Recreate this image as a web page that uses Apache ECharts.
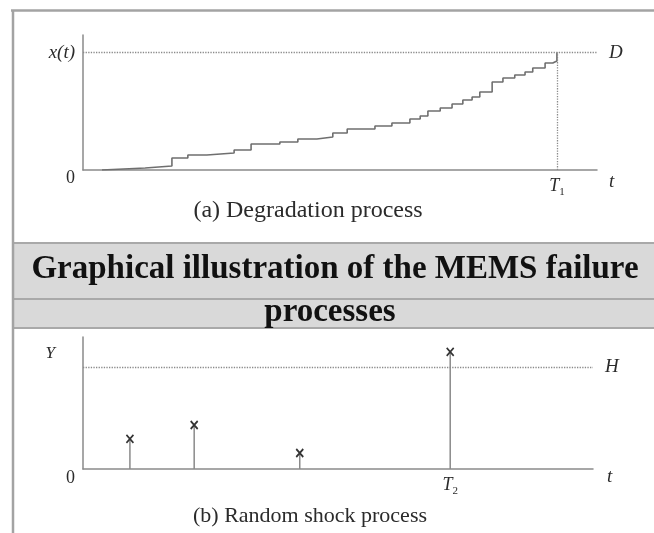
<!DOCTYPE html>
<html>
<head>
<meta charset="utf-8">
<script src="https://cdn.jsdelivr.net/npm/echarts@6/dist/echarts.min.js"></script>
<style>
html,body{margin:0;padding:0;background:#fff;}
#main{width:654px;height:533px;}
</style>
</head>
<body>
<div id="main"></div>
<script>
// (a) degradation path: [t, x(t)] at each jump
var degradeSteps = [[3.7,0],[3.7,1.7],[12.1,3.4],[17.3,10.2],[20.4,12.8],[24.1,14.5],[29.4,17.0],
	[32.7,22.1],[38.3,23.9],[41.8,26.4],[45.5,28.1],[48.6,31.5],[51.4,34.9],[56.8,37.5],
	[60.1,40.0],[63.6,43.4],[65.6,46.0],[67.1,50.3],[69.5,52.8],[71.8,56.2],[73.9,59.6],
	[75.7,62.2],[77.2,66.4],[79.6,75.0],[81.7,78.4],[84.0,80.9],[86.0,83.5],[87.5,86.9],
	[89.9,91.1],[91.4,92.8],[92.2,100]];
var T1 = 92.2, D = 100;
// (b) random shocks
var shockTimes = [9.2, 21.8, 42.5, 72.0];
var shockSizes = [29.6, 43.3, 15.8, 115.3];
var T2 = 72.0, H = 100;

var serif = "'Liberation Serif','Times New Roman',serif";
var txt = '#2b2b2b';
var axisGray = '#8a8a8a';

var shockData = [];
for (var i = 0; i < shockTimes.length; i++) {
	shockData.push([shockTimes[i], shockSizes[i]]);
}

function subLabel(letter, idx) {
	return '{i|' + letter + '}{s|' + idx + '}';
}
var subRich = {
	i: {fontFamily: serif, fontStyle: 'italic', fontSize: 18, color: txt},
	s: {fontFamily: serif, fontSize: 11, color: txt, padding: [12, 0, 0, 0]}
};

var chart = echarts.init(document.getElementById('main'));
var option = {
	backgroundColor: '#fff',
	animation: false,
	graphic: [
		{type: 'rect', shape: {x: 14, y: 244, width: 640, height: 54}, style: {fill: '#d9d9d9'}},
		{type: 'rect', shape: {x: 14, y: 300, width: 640, height: 27}, style: {fill: '#d9d9d9'}},
		{type: 'line', shape: {x1: 14, y1: 243, x2: 654, y2: 243}, style: {stroke: '#a9a9a9', lineWidth: 2}},
		{type: 'line', shape: {x1: 14, y1: 299, x2: 654, y2: 299}, style: {stroke: '#a9a9a9', lineWidth: 2}},
		{type: 'line', shape: {x1: 14, y1: 328, x2: 654, y2: 328}, style: {stroke: '#a9a9a9', lineWidth: 2}},
		{type: 'line', shape: {x1: 11, y1: 10.5, x2: 654, y2: 10.5}, style: {stroke: '#a3a3a3', lineWidth: 2.5}},
		{type: 'line', shape: {x1: 13, y1: 10, x2: 13, y2: 533}, style: {stroke: '#a3a3a3', lineWidth: 2.5}}
	],
	title: [
		{text: '(a) Degradation process', left: 308, top: 211, padding: 0, textAlign: 'center', textVerticalAlign: 'middle',
			textStyle: {fontFamily: serif, fontSize: 24, fontWeight: 'normal', color: txt}},
		{text: 'Graphical illustration of the MEMS failure', left: 335, top: 269, padding: 0, textAlign: 'center', textVerticalAlign: 'middle',
			textStyle: {fontFamily: serif, fontSize: 33, fontWeight: 'bold', color: '#111'}},
		{text: 'processes', left: 330, top: 312, padding: 0, textAlign: 'center', textVerticalAlign: 'middle',
			textStyle: {fontFamily: serif, fontSize: 33, fontWeight: 'bold', color: '#111'}},
		{text: '(b) Random shock process', left: 310, top: 516, padding: 0, textAlign: 'center', textVerticalAlign: 'middle',
			textStyle: {fontFamily: serif, fontSize: 22, fontWeight: 'normal', color: txt}}
	],
	grid: [
		{left: 83, top: 35, width: 514, height: 135},
		{left: 83, top: 337, width: 510, height: 132}
	],
	xAxis: [
		{
			type: 'value', gridIndex: 0, min: 0, max: 100,
			name: 't', nameLocation: 'end', nameGap: 12,
			nameTextStyle: {fontFamily: serif, fontStyle: 'italic', fontSize: 19, color: txt, verticalAlign: 'top', padding: [2, 0, 0, 0]},
			axisLine: {lineStyle: {color: axisGray, width: 1.5}},
			axisTick: {show: false},
			splitLine: {show: false},
			axisLabel: {customValues: [T1], margin: 5, formatter: function () { return subLabel('T', 1); }, rich: subRich}
		},
		{
			type: 'value', gridIndex: 1, min: 0, max: 100,
			name: 't', nameLocation: 'end', nameGap: 14,
			nameTextStyle: {fontFamily: serif, fontStyle: 'italic', fontSize: 19, color: txt, verticalAlign: 'top', padding: [-2, 0, 0, 0]},
			axisLine: {lineStyle: {color: axisGray, width: 1.5}},
			axisTick: {show: false},
			splitLine: {show: false},
			axisLabel: {customValues: [T2], margin: 5, formatter: function () { return subLabel('T', 2); }, rich: subRich}
		}
	],
	yAxis: [
		{
			type: 'value', gridIndex: 0, min: 0, max: 115,
			axisLine: {lineStyle: {color: axisGray, width: 1.5}},
			axisTick: {show: false},
			splitLine: {show: false},
			axisLabel: {
				customValues: [0, D], margin: 8,
				formatter: function (v) { return v === 0 ? '{z|0}' : '{v|x(t)}'; },
				rich: {
					z: {fontFamily: serif, fontSize: 18, color: txt, padding: [16, 0, 0, 0]},
					v: {fontFamily: serif, fontStyle: 'italic', fontSize: 19, color: txt}
				}
			}
		},
		{
			type: 'value', gridIndex: 1, min: 0, max: 130,
			axisLine: {lineStyle: {color: axisGray, width: 1.5}},
			axisTick: {show: false},
			splitLine: {show: false},
			axisLabel: {
				customValues: [0, 114], margin: 8,
				formatter: function (v) { return v === 0 ? '{z|0}' : '{v|Y}'; },
				rich: {
					z: {fontFamily: serif, fontSize: 18, color: txt, padding: [18, 0, 0, 0]},
					v: {fontFamily: serif, fontStyle: 'italic', fontSize: 17, color: txt, padding: [0, 20, 0, 0]}
				}
			}
		}
	],
	series: [
		{
			name: 'degradation', type: 'line', step: 'end', xAxisIndex: 0, yAxisIndex: 0,
			showSymbol: false, silent: true,
			lineStyle: {color: '#6f6f6f', width: 1.6},
			data: degradeSteps,
			markLine: {
				silent: true, symbol: ['none', 'none'],
				lineStyle: {type: 'dotted', color: '#8a8a8a', width: 1.3},
				label: {position: 'end', distance: 12, formatter: 'D', fontFamily: serif, fontStyle: 'italic', fontSize: 19, color: txt},
				data: [
					{yAxis: D},
					[{coord: [T1, 0], label: {show: false}}, {coord: [T1, D]}]
				]
			}
		},
		{
			name: 'stems', type: 'bar', xAxisIndex: 1, yAxisIndex: 1,
			barWidth: 1.5, silent: true,
			itemStyle: {color: '#8a8a8a'},
			data: shockData
		},
		{
			name: 'shocks', type: 'scatter', xAxisIndex: 1, yAxisIndex: 1,
			symbol: 'path://M0,0L10,10M10,0L0,10', symbolSize: [7, 8], silent: true,
			itemStyle: {color: 'transparent', borderColor: '#333', borderWidth: 1.8, opacity: 1},
			data: shockData,
			markLine: {
				silent: true, symbol: ['none', 'none'],
				lineStyle: {type: 'dotted', color: '#8a8a8a', width: 1.3},
				label: {position: 'end', distance: 12, formatter: 'H', fontFamily: serif, fontStyle: 'italic', fontSize: 19, color: txt},
				data: [{yAxis: H}]
			}
		}
	]
};
chart.setOption(option);
</script>
</body>
</html>
